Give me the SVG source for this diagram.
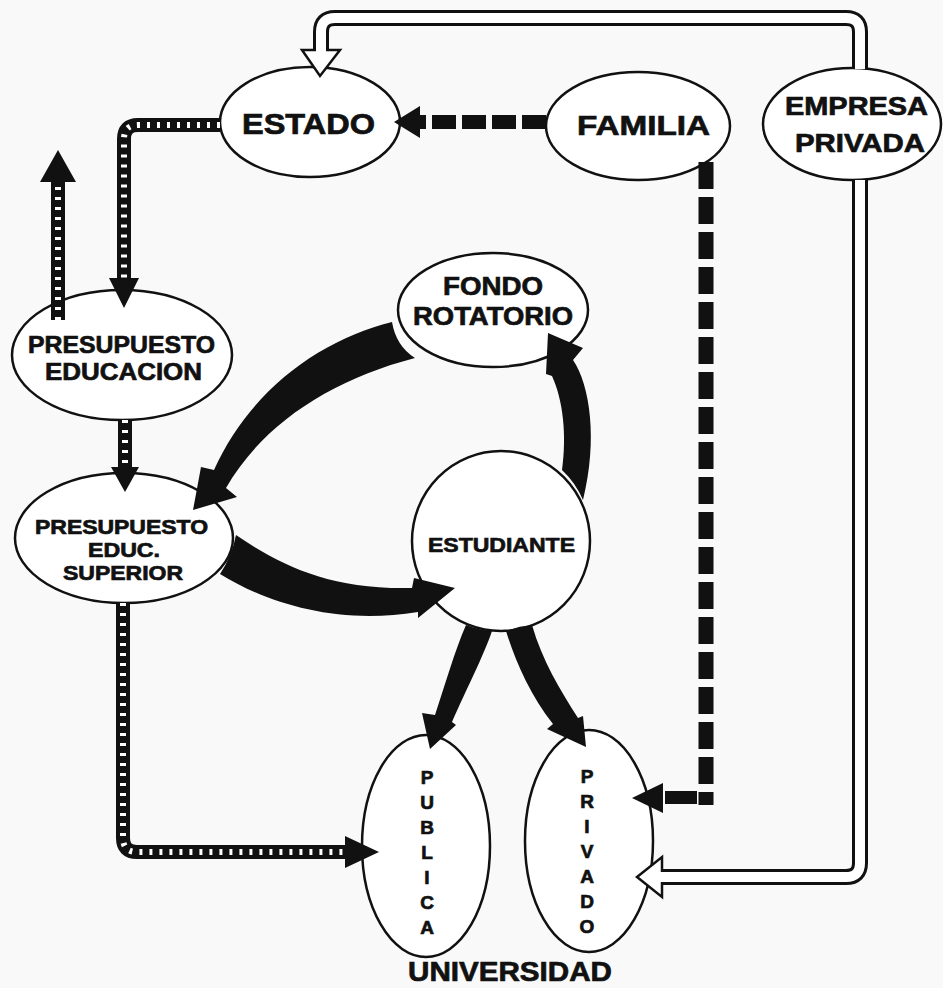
<svg xmlns="http://www.w3.org/2000/svg" width="943" height="988" viewBox="0 0 943 988">
<style>
.node{fill:#fff;stroke:#111;stroke-width:2.5}
.lbl{font-family:"Liberation Sans",Arial,sans-serif;font-weight:bold;fill:#111;stroke:#111;stroke-width:0.7}
.sb{fill:none;stroke:#111;stroke-width:14}
.sw{fill:none;stroke:#fff;stroke-width:6;stroke-dasharray:3 7}
.pb{fill:none;stroke:#111;stroke-width:16}
.pw{fill:none;stroke:#fff;stroke-width:10}
.dash{fill:none;stroke:#111;stroke-width:14;stroke-dasharray:24 6}
.solid{fill:#111;stroke:none}
.whead{fill:#fff;stroke:#111;stroke-width:2.5}
</style>
<rect width="943" height="988" fill="#f9f9f9"/>
<g id="nodes">
  <g id="estado">
    <ellipse class="node" cx="310" cy="122" rx="90" ry="55"/>
    <text class="lbl" x="242" y="134" font-size="29" textLength="133" lengthAdjust="spacingAndGlyphs">ESTADO</text>
  </g>
  <g id="familia">
    <ellipse class="node" cx="638" cy="126" rx="92" ry="54"/>
    <text class="lbl" x="577" y="135" font-size="28" textLength="133" lengthAdjust="spacingAndGlyphs">FAMILIA</text>
  </g>
  <g id="empresa-privada">
    <ellipse class="node" cx="852" cy="124" rx="89" ry="56"/>
    <text class="lbl" x="785" y="115" font-size="26" textLength="143" lengthAdjust="spacingAndGlyphs">EMPRESA</text>
    <text class="lbl" x="795" y="152" font-size="26" textLength="130" lengthAdjust="spacingAndGlyphs">PRIVADA</text>
  </g>
  <g id="fondo-rotatorio">
    <ellipse class="node" cx="493" cy="310" rx="95" ry="57"/>
    <text class="lbl" x="443" y="295" font-size="26" textLength="100" lengthAdjust="spacingAndGlyphs">FONDO</text>
    <text class="lbl" x="413" y="325" font-size="26" textLength="160" lengthAdjust="spacingAndGlyphs">ROTATORIO</text>
  </g>
  <g id="presupuesto-educacion">
    <ellipse class="node" cx="122" cy="355" rx="110" ry="65"/>
    <text class="lbl" x="28" y="353" font-size="24" textLength="187" lengthAdjust="spacingAndGlyphs">PRESUPUESTO</text>
    <text class="lbl" x="45" y="380" font-size="24" textLength="157" lengthAdjust="spacingAndGlyphs">EDUCACION</text>
  </g>
  <g id="presupuesto-educ-superior">
    <ellipse class="node" cx="124" cy="538" rx="109" ry="65"/>
    <text class="lbl" x="35" y="534" font-size="20" textLength="173" lengthAdjust="spacingAndGlyphs">PRESUPUESTO</text>
    <text class="lbl" x="88" y="557" font-size="20" textLength="72" lengthAdjust="spacingAndGlyphs">EDUC.</text>
    <text class="lbl" x="63" y="580" font-size="20" textLength="120" lengthAdjust="spacingAndGlyphs">SUPERIOR</text>
  </g>
  <g id="estudiante">
    <ellipse class="node" cx="501" cy="541" rx="89" ry="90"/>
    <text class="lbl" x="428" y="552" font-size="21" textLength="147" lengthAdjust="spacingAndGlyphs">ESTUDIANTE</text>
  </g>
  <g id="publica">
    <ellipse class="node" cx="426" cy="846" rx="64" ry="111"/>
    <g class="lbl" font-size="19" text-anchor="middle">
      <text x="427" y="784">P</text><text x="427" y="809">U</text><text x="427" y="834">B</text><text x="427" y="859">L</text><text x="427" y="884">I</text><text x="427" y="909">C</text><text x="427" y="934">A</text>
    </g>
  </g>
  <g id="privado">
    <ellipse class="node" cx="589" cy="841" rx="64" ry="111"/>
    <g class="lbl" font-size="19" text-anchor="middle">
      <text x="587" y="783">P</text><text x="587" y="808">R</text><text x="587" y="833">I</text><text x="587" y="858">V</text><text x="587" y="883">A</text><text x="587" y="908">D</text><text x="587" y="933">O</text>
    </g>
  </g>
  <g id="universidad">
    <text class="lbl" x="408" y="981" font-size="27" textLength="204" lengthAdjust="spacingAndGlyphs">UNIVERSIDAD</text>
  </g>
</g>
<g id="connectors">
  <path class="pb" d="M860,69 V32 Q860,18 846,18 H335 Q321,18 321,32 V50"/>
  <path class="pw" d="M860,69 V32 Q860,18 846,18 H335 Q321,18 321,32 V50"/>
  <polygon class="whead" points="302,50 340,50 320,76"/>
  <line x1="321" y1="44" x2="321" y2="53" stroke="#fff" stroke-width="10"/>
  <path class="pb" d="M860,180 V863 Q860,877 846,877 H662"/>
  <path class="pw" d="M860,180 V863 Q860,877 846,877 H662"/>
  <polygon class="whead" points="662,857 662,897 637,877"/>
  <line x1="659" y1="877" x2="668" y2="877" stroke="#fff" stroke-width="10"/>
  <path class="sb" d="M220,125 H138 Q124,125 124,139 V280"/>
  <path class="sw" d="M220,125 H138 Q124,125 124,139 V280"/>
  <polygon class="solid" points="109,278 139,278 124,308"/>
  <path class="sb" d="M58,320 V180"/>
  <path class="sw" d="M58,320 V180"/>
  <polygon class="solid" points="40,182 76,182 58,150"/>
  <path class="sb" d="M125,420 V468"/>
  <path class="sw" d="M125,420 V468"/>
  <polygon class="solid" points="111,467 139,467 125,492"/>
  <path class="sb" d="M123,603 V838 Q123,852 137,852 H346"/>
  <path class="sw" d="M123,603 V838 Q123,852 137,852 H346"/>
  <polygon class="solid" points="345,836 345,868 379,852"/>
  <path class="dash" d="M546,122 H420"/>
  <polygon class="solid" points="420,106 420,138 394,122"/>
  <path fill="none" stroke="#111" stroke-width="15" stroke-dasharray="27 8" d="M706,162 V805"/>
  <rect class="solid" x="665" y="791" width="32" height="13"/>
  <polygon class="solid" points="663,783 663,813 632,798"/>
  <path class="solid" d="M392,322 C320,340 250,390 214,470 L201,467 L193,510 L237,497 L226,488 C262,425 330,380 415,358 Q396,346 392,322 Z"/>
  <path class="solid" d="M236,535 C280,565 330,590 412,588 L414,578 L455,588 L418,618 L418,612 C340,625 270,605 220,574 Q232,556 236,535 Z"/>
  <path class="solid" d="M562,470 C567,435 563,400 552,376 L546,374 L548,333 L583,348 L573,360 C590,385 598,440 583,500 A90,90 0 0 0 562,470 Z"/>
  <path class="solid" d="M466,625 C455,650 445,685 435,715 L422,713 L430,749 L456,725 L452,722 C466,690 484,655 492,631 A90,90 0 0 1 466,625 Z"/>
  <path class="solid" d="M506,631 C515,660 530,695 553,724 L547,729 L586,747 L583,716 L578,718 C560,690 542,660 532,625 A90,90 0 0 0 506,631 Z"/>
</g>
</svg>
